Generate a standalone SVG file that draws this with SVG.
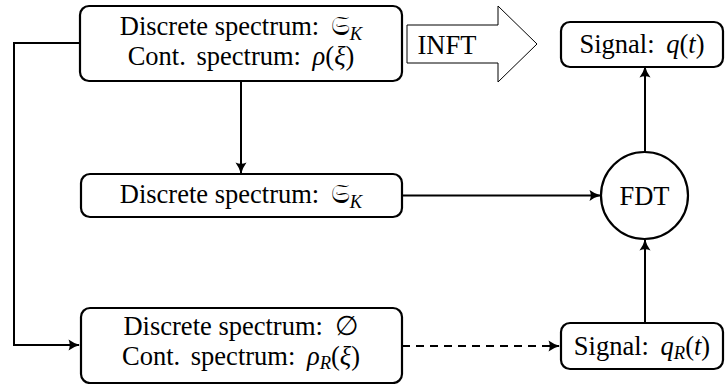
<svg xmlns="http://www.w3.org/2000/svg" width="725" height="384" viewBox="0 0 725 384">
<style>
  .box { fill: #fff; stroke: #000; stroke-width: 2.2; }
  .t { font-family: "Liberation Serif", "Times New Roman", serif; font-size: 26.5px; fill: #000; text-anchor: middle; }
  .m { font-style: italic; }
  .sub { font-style: italic; font-size: 18.5px; }
  .frak { font-family: "DejaVu Serif", "Noto Sans", serif; }
  .c { fill: none; stroke: #000; stroke-width: 2; }
  .dash { stroke-dasharray: 8 6; }
</style>
<defs>
  <marker id="arr" markerWidth="14" markerHeight="14" refX="12" refY="7" orient="auto" markerUnits="userSpaceOnUse">
    <path d="M1.5,1.5 Q7,5.5 13,7 Q7,8.5 1.5,12.5 Q4,7 1.5,1.5 Z" fill="#000"/>
  </marker>
</defs>

<g id="connectors">
  <polyline class="c" points="80,43 14,43 14,345 79,345" marker-end="url(#arr)"/>
  <line class="c" x1="241" y1="81" x2="241" y2="173" marker-end="url(#arr)"/>
  <line class="c" x1="402" y1="195.5" x2="600" y2="195.5" marker-end="url(#arr)"/>
  <line class="c" x1="645" y1="152" x2="645" y2="67" marker-end="url(#arr)"/>
  <line class="c" x1="645" y1="323" x2="645" y2="240" marker-end="url(#arr)"/>
  <line class="c dash" x1="402" y1="346" x2="559" y2="346" marker-end="url(#arr)"/>
</g>

<g id="node-top">
  <rect class="box" x="80" y="6" width="322" height="75" rx="9"/>
  <text class="t" x="241" y="35">Discrete spectrum: <tspan class="frak" dx="5">𝔖</tspan><tspan class="sub" dy="5">K</tspan></text>
  <text class="t" x="241" y="65">Cont. <tspan dx="4">spectrum:</tspan> <tspan class="m" dx="5">ρ</tspan>(<tspan class="m">ξ</tspan>)</text>
</g>

<g id="node-inft">
  <polygon points="407,25 498,25 498,6 537,44 498,82 498,63 407,63" fill="#fff" stroke="#000" stroke-width="1"/>
  <text class="t" x="447" y="54">INFT</text>
</g>

<g id="node-signal">
  <rect class="box" x="561" y="22" width="162" height="45" rx="9"/>
  <text class="t" x="642" y="53">Signal: <tspan class="m" dx="5">q</tspan>(<tspan class="m">t</tspan>)</text>
</g>

<g id="node-middle">
  <rect class="box" x="81" y="174" width="321" height="43" rx="9"/>
  <text class="t" x="241" y="203">Discrete spectrum: <tspan class="frak" dx="5">𝔖</tspan><tspan class="sub" dy="5">K</tspan></text>
</g>

<g id="node-fdt">
  <circle class="box" cx="644.5" cy="195.5" r="43.5"/>
  <text class="t" x="644.5" y="205">FDT</text>
</g>

<g id="node-bottom">
  <rect class="box" x="81" y="308" width="321" height="75" rx="9"/>
  <text class="t" x="241" y="335">Discrete spectrum: <tspan dx="5">∅</tspan></text>
  <text class="t" x="241" y="365">Cont. <tspan dx="4">spectrum:</tspan> <tspan class="m" dx="5">ρ</tspan><tspan class="sub" dy="4">R</tspan><tspan dy="-4">(</tspan><tspan class="m">ξ</tspan>)</text>
</g>

<g id="node-signal-r">
  <rect class="box" x="561" y="323" width="162" height="46" rx="9"/>
  <text class="t" x="642" y="355">Signal: <tspan class="m" dx="5">q</tspan><tspan class="sub" dy="4">R</tspan><tspan dy="-4">(</tspan><tspan class="m">t</tspan>)</text>
</g>
</svg>
